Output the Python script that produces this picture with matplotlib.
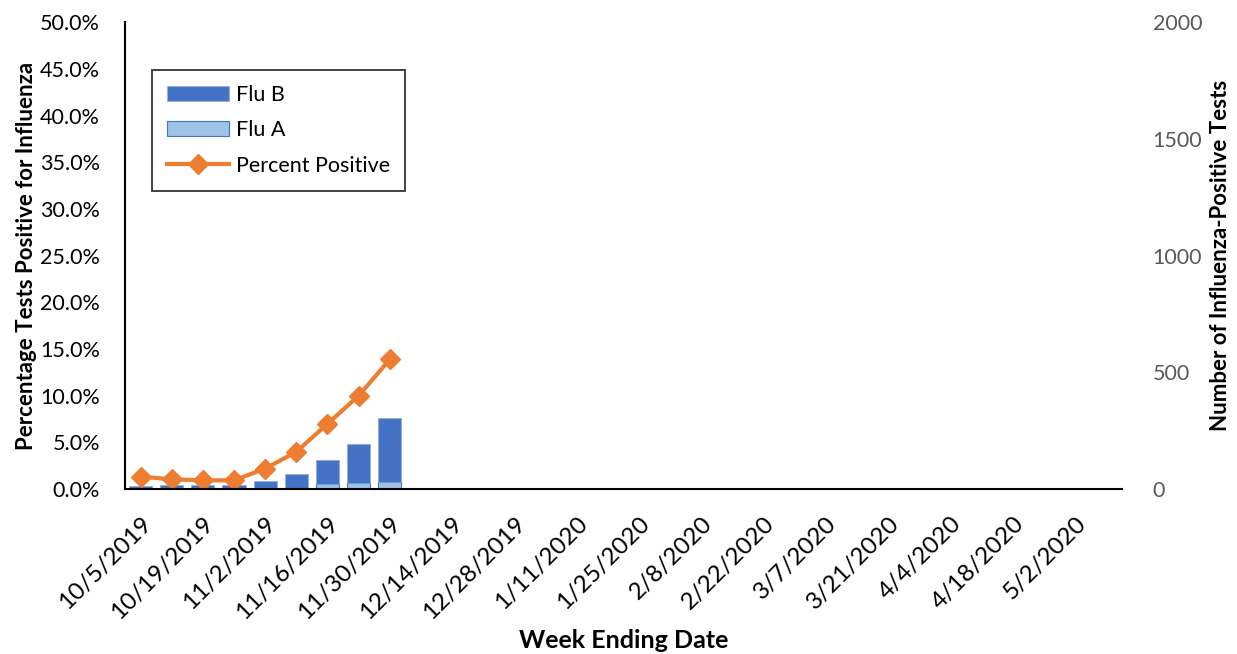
import numpy as np
import matplotlib.pyplot as plt

plt.rcParams['font.family'] = ['Lato', 'DejaVu Sans']

weeks = ['10/5/2019', '10/12/2019', '10/19/2019', '10/26/2019', '11/2/2019',
         '11/9/2019', '11/16/2019', '11/23/2019', '11/30/2019', '12/7/2019',
         '12/14/2019', '12/21/2019', '12/28/2019', '1/4/2020', '1/11/2020',
         '1/18/2020', '1/25/2020', '2/1/2020', '2/8/2020', '2/15/2020',
         '2/22/2020', '2/29/2020', '3/7/2020', '3/14/2020', '3/21/2020',
         '3/28/2020', '4/4/2020', '4/11/2020', '4/18/2020', '4/25/2020',
         '5/2/2020', '5/9/2020']
flu_a = [3, 3, 3, 3, 4, 7, 21, 26, 31]
flu_b = [11, 17, 17, 17, 30, 60, 102, 168, 274]
pct_pos = [1.35, 1.06, 0.95, 0.95, 2.2, 4.0, 7.0, 10.0, 13.9]

blue = '#4472C4'
light = '#9DC3E6'
orange = '#ED7D31'

fig = plt.figure(figsize=(12.37, 6.54), dpi=100)
ax = fig.add_axes([0.101, 0.252, 0.806, 0.714])
ax2 = ax.twinx()

n = len(flu_a)
x = np.arange(len(weeks))
xb = x[:n]
ha = ax2.bar(xb, flu_a, width=0.74, color=light, edgecolor=blue, linewidth=0.8, label='Flu A')
hb = ax2.bar(xb, flu_b, width=0.74, bottom=flu_a, color=blue, edgecolor='#8FAADC', linewidth=0.5, label='Flu B')

# line sits on top of the bars
ax.set_zorder(ax2.get_zorder() + 1)
ax.patch.set_visible(False)
hl, = ax.plot(xb, pct_pos, color=orange, lw=3, marker='D', ms=10, label='Percent Positive')

ax.set_xlim(-0.5, len(weeks) - 0.5)
ax.set_ylim(0, 50)
ax2.set_ylim(0, 2000)
ax.set_yticks(np.arange(0, 51, 5))
ax.set_yticklabels(['%.1f%%' % v for v in np.arange(0, 51, 5)])
ax2.set_yticks(np.arange(0, 2001, 500))

ax.set_xticks(x[::2])
ax.set_xticklabels(weeks[::2], rotation=45, ha='right', rotation_mode='anchor')

for a in (ax, ax2):
    a.spines['top'].set_visible(False)
    a.spines['right'].set_visible(False)
ax2.spines['left'].set_visible(False)
ax2.spines['bottom'].set_visible(False)
ax.spines['left'].set_linewidth(1.5)
ax.spines['bottom'].set_linewidth(1.5)

ax.tick_params(axis='y', length=0, labelsize=15.5, pad=18)
ax.tick_params(axis='x', length=0, labelsize=17.5, pad=17)
ax2.tick_params(axis='y', length=0, labelsize=15.5, labelcolor='#595959', pad=22)

ax.set_ylabel('Percentage Tests Positive for Influenza', fontsize=16, fontweight='bold', labelpad=2)
ax2.set_ylabel('Number of Influenza-Positive Tests', fontsize=16, fontweight='bold', labelpad=6)
ax.set_xlabel('Week Ending Date', fontsize=18, fontweight='bold')
ax.xaxis.set_label_coords(0.5, -0.30)

leg = ax.legend([hb, ha, hl], ['Flu B', 'Flu A', 'Percent Positive'], loc='upper left',
                bbox_to_anchor=(0.027, 0.897), borderaxespad=0, fontsize=15.5, frameon=True,
                fancybox=False, edgecolor='black', borderpad=0.7, labelspacing=0.7,
                handlelength=2.9, handletextpad=0.3)
leg.get_frame().set_linewidth(1.3)

fig.savefig('out.png', dpi=100)
